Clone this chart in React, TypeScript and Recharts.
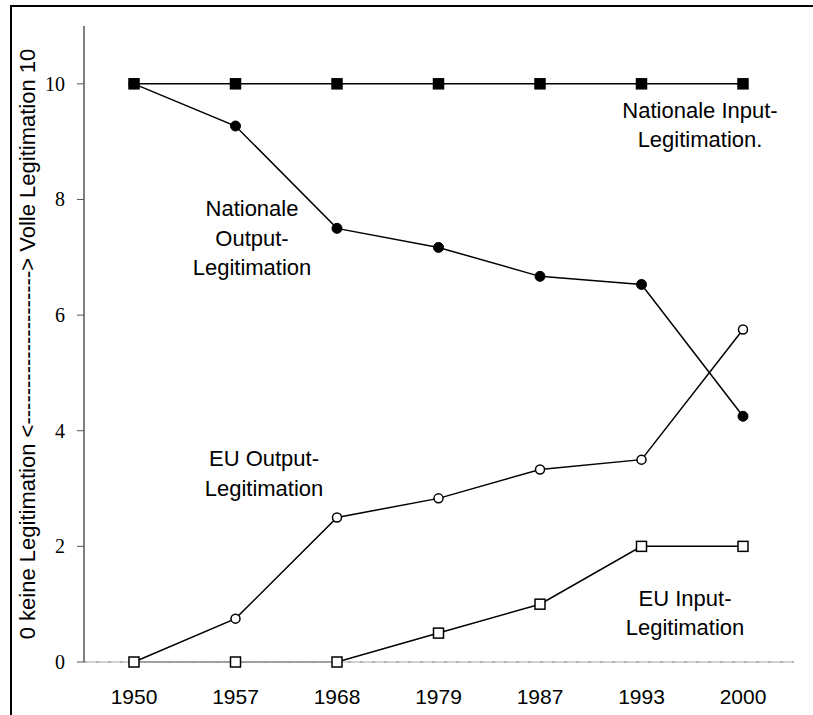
import { LineChart, Line, XAxis, YAxis, ReferenceLine } from "recharts";

const years = ["1950", "1957", "1968", "1979", "1987", "1993", "2000"];
const nationalInput = [10, 10, 10, 10, 10, 10, 10];
const nationalOutput = [10, 9.27, 7.5, 7.17, 6.67, 6.53, 4.25];
const euOutput = [0, 0.75, 2.5, 2.83, 3.33, 3.5, 5.75];
const euInput = [0, 0, 0, 0.5, 1, 2, 2];
const yTicks = [0, 2, 4, 6, 8, 10];
const yLabel = "0 keine Legitimation <---------------------> Volle Legitimation 10";

const data = years.map((year, i) => ({
  year,
  natIn: nationalInput[i],
  natOut: nationalOutput[i],
  euOut: euOutput[i],
  euIn: euInput[i],
}));

const SANS = "Liberation Sans, Arial, sans-serif";
const SERIF = "Liberation Serif, Times New Roman, serif";

function SquareDot(props: any) {
  const { cx, cy, index, filled } = props;
  if (cx == null || cy == null) return null;
  return (
    <rect
      key={`sq-${filled ? "f" : "o"}-${index}`}
      x={cx - 5}
      y={cy - 5}
      width={10}
      height={10}
      fill={filled ? "#000" : "#fff"}
      stroke="#000"
      strokeWidth={1.5}
    />
  );
}

function YTick(props: any) {
  const { x, y, payload } = props;
  return (
    <text x={x} y={y} dy={7} textAnchor="end" fill="#000" style={{ fontFamily: SERIF, fontSize: 20 }}>
      {payload.value}
    </text>
  );
}

const textStyle = { fontFamily: SANS, fontSize: 22, fill: "#000" };

export default function App() {
  return (
    <div style={{ position: "absolute", left: 0, top: 0, width: 813, height: 715, background: "#fff", overflow: "hidden" }}>
      <div
        style={{
          position: "absolute",
          left: 10,
          top: 5,
          width: 830,
          height: 730,
          border: "2px solid #000",
        }}
      />
      <LineChart width={813} height={715} data={data} margin={{ top: 26, right: 19, left: 0, bottom: 0 }}>
        <XAxis
          dataKey="year"
          height={53}
          padding={{ left: 50, right: 51 }}
          axisLine={{ stroke: "#c4c4c4", strokeWidth: 1.5 }}
          tickLine={false}
          tickSize={0}
          tickMargin={27}
          tick={{ fontFamily: SANS, fontSize: 21, fill: "#000" }}
        />
        <XAxis xAxisId="top" dataKey="year" orientation="top" height={0} tick={false} tickLine={false} axisLine={{ stroke: "#8a8a8a", strokeWidth: 1.5 }} />
        <YAxis
          domain={[0, 11]}
          ticks={yTicks}
          width={84}
          axisLine={{ stroke: "#555", strokeWidth: 1.5 }}
          tickLine={{ stroke: "#555" }}
          tickSize={7}
          tickMargin={12}
          tick={<YTick />}
          label={{ value: yLabel, angle: -90, position: "center", dx: -15, style: { fontFamily: SANS, fontSize: 22, fill: "#000" } }}
        />
        <YAxis yAxisId="right" orientation="right" domain={[0, 11]} width={0} tick={false} tickLine={false} axisLine={{ stroke: "#8a8a8a", strokeWidth: 1.5 }} />
        <ReferenceLine y={0} stroke="#000" strokeDasharray="3 9" />
        <Line type="linear" dataKey="natIn" stroke="#000" strokeWidth={1.5} isAnimationActive={false} dot={(p: any) => <SquareDot {...p} filled />} />
        <Line type="linear" dataKey="natOut" stroke="#000" strokeWidth={1.5} isAnimationActive={false} dot={{ r: 5, fill: "#000", stroke: "#000", strokeWidth: 1 }} />
        <Line type="linear" dataKey="euOut" stroke="#000" strokeWidth={1.5} isAnimationActive={false} dot={{ r: 4.5, fill: "#fff", stroke: "#000", strokeWidth: 1.5 }} />
        <Line type="linear" dataKey="euIn" stroke="#000" strokeWidth={1.5} isAnimationActive={false} dot={(p: any) => <SquareDot {...p} filled={false} />} />
        <text textAnchor="middle" style={textStyle}>
          <tspan x={700} y={118}>Nationale Input-</tspan>
          <tspan x={700} y={147}>Legitimation.</tspan>
        </text>
        <text textAnchor="middle" style={textStyle}>
          <tspan x={252} y={216}>Nationale</tspan>
          <tspan x={252} y={246}>Output-</tspan>
          <tspan x={252} y={275}>Legitimation</tspan>
        </text>
        <text textAnchor="middle" style={textStyle}>
          <tspan x={264} y={466}>EU Output-</tspan>
          <tspan x={264} y={496}>Legitimation</tspan>
        </text>
        <text textAnchor="middle" style={textStyle}>
          <tspan x={685} y={606}>EU Input-</tspan>
          <tspan x={685} y={635}>Legitimation</tspan>
        </text>
      </LineChart>
    </div>
  );
}
